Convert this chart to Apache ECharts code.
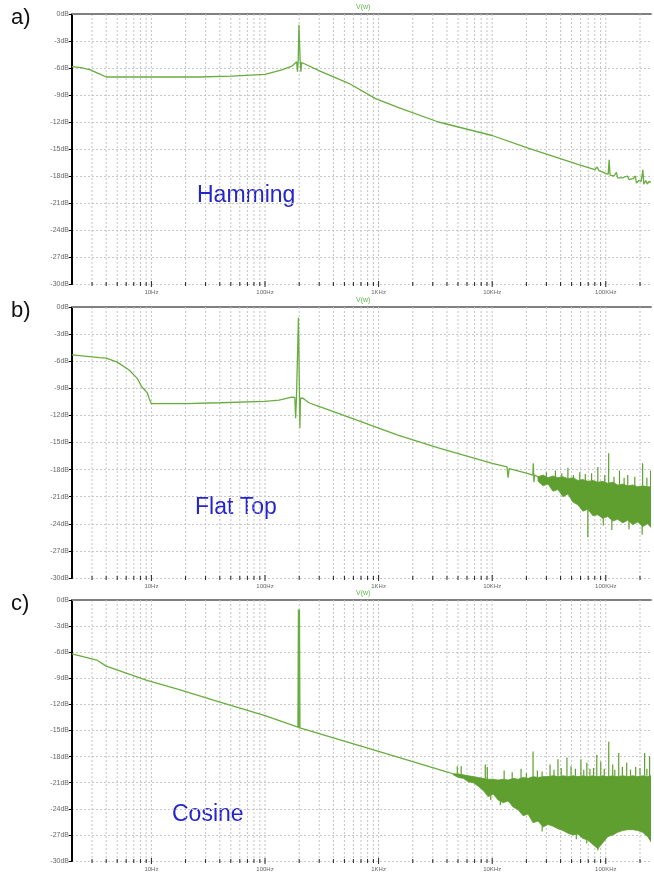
<!DOCTYPE html>
<html><head><meta charset="utf-8">
<script src="https://cdn.jsdelivr.net/npm/echarts@6/dist/echarts.min.js"></script>
<style>html,body{margin:0;padding:0;background:#fff}#c{width:654px;height:872px}</style>
</head><body><div id="c"></div>
<script>
// ---------------- data (frequency in Hz, level in dB) ----------------
const yTicks = [0,-3,-6,-9,-12,-15,-18,-21,-24,-27,-30];
const xLabels = {10:'10Hz',100:'100Hz',1000:'1KHz',10000:'10KHz',100000:'100KHz'};
const gridFreqs = [3,4,5,6,7,8,9,10,20,30,40,50,60,70,80,90,100,200,300,400,500,600,700,800,900,
  1000,2000,3000,4000,5000,6000,7000,8000,9000,10000,20000,30000,40000,50000,60000,70000,80000,90000,100000,200000];
const decades = [10,100,1000,10000,100000];

const hammingLine = [[2,-5.85],[2.4,-5.95],[2.9,-6.2],[3.4,-6.6],[4,-7.0],[10,-7.0],[26,-7.0],[51,-6.9],[100,-6.7],
  [141,-6.2],[172,-5.8],[190,-5.3],[193,-6.4],[196,-5.2],[199,-1.2],[201,-1.2],[204,-5.2],[207,-6.4],[210,-5.4],
  [220,-5.5],[298,-6.3],[546,-7.7],[940,-9.4],[1500,-10.4],[3357,-12.0],[10000,-13.5],[20700,-14.9],[56800,-16.7],
  [80000,-17.3],[84000,-17.0],[87000,-17.4],[100000,-17.7],[105000,-17.8],[107000,-16.2],[109000,-17.9],
  [118000,-18.0],[124000,-17.6],[127000,-18.2],[140000,-18.2],[155000,-18.0],[160000,-18.4],[175000,-18.3],
  [182000,-18.0],[186000,-18.8],[195000,-18.5],[205000,-18.6],[212000,-17.3],[216000,-18.9],[225000,-18.5],
  [232000,-18.9],[240000,-18.6],[250000,-18.7]];

const flatTopLine = [[2,-5.3],[3.5,-5.6],[4,-5.65],[5,-6.1],[6.4,-7.0],[7.5,-7.9],[8.2,-8.8],[9.2,-9.5],[9.6,-10.2],
  [10,-10.7],[20,-10.7],[40,-10.6],[100,-10.45],[133,-10.3],[172,-9.97],[183,-10.0],[186,-12.3],[189,-10.3],
  [194,-10.1],[197,-1.2],[199,-1.1],[201,-1.2],[203,-13.4],[205,-10.1],[210,-9.9],[216,-10.1],[243,-10.6],
  [298,-11.0],[546,-12.2],[1000,-13.4],[1500,-14.2],[3357,-15.6],[10000,-17.3],[13500,-17.7],[13800,-18.9],
  [14100,-17.9],[20000,-18.4],[22800,-18.6],[23000,-17.3],[23300,-19.4],[23600,-18.6],[25300,-18.8],
  [31000,-19.3],[40000,-19.8],[60000,-20.4],[85000,-21.0],[130000,-21.5],[250000,-21.8]];
const flatTopBandF  = [25330,28020,30990,34290,37920,41960,46420,51350,56810,62840,69520,76910,85080,94130,
  104100,115200,127400,140900,156000,172500,190900,211200,233600,250000];
const flatTopBandHi = [-18.8,-18.6,-18.9,-18.7,-18.9,-18.8,-19.0,-18.9,-19.2,-19.1,-19.3,-19.2,-19.4,-19.3,
  -19.5,-19.4,-19.7,-19.6,-19.8,-19.7,-19.9,-19.8,-19.9,-19.9];
const flatTopBandLo = [-19.3,-19.8,-19.6,-20.4,-20.2,-21.0,-20.7,-21.6,-21.9,-22.6,-22.4,-23.1,-23.0,-23.4,
  -23.2,-23.7,-23.5,-23.9,-23.6,-24.1,-23.8,-24.3,-24.0,-24.4];
// spikes: [frequency, from dB, to dB]
const flatTopSpikes = [[36000,-19.0,-18.1],[46400,-19.0,-17.8],[59000,-19.2,-18.3],[85100,-19.4,-17.7],
  [106000,-19.5,-16.2],[132000,-19.6,-18.1],[156000,-19.8,-18.6],[211000,-19.8,-17.3],[248000,-19.9,-18.1],
  [30000,-18.9,-18.3],[41000,-18.9,-18.4],[52000,-19.0,-18.6],[66000,-19.2,-18.5],[75000,-19.2,-18.4],
  [98000,-19.4,-18.6],[118000,-19.5,-18.8],[145000,-19.7,-18.9],[180000,-19.8,-18.8],[230000,-19.9,-18.9],
  [69500,-22.4,-25.5],[113000,-23.6,-24.7],[209000,-24.2,-25.2],[95000,-23.3,-24.2],[160000,-23.6,-24.6]];

const cosineLine = [[2,-6.2],[3.3,-6.9],[4,-7.6],[6,-8.4],[9,-9.2],[17.6,-10.3],[39.5,-11.7],[100,-13.3],
  [195,-14.6],[197,-1.1],[199,-14.7],[201,-1.1],[203,-14.7],[1000,-17.4],[1500,-18.1],[4110,-19.8],
  [4550,-20.0],[9220,-20.9],[20700,-21.3],[60000,-21.6],[250000,-21.8]];
const cosineBandF  = [4550,5030,5570,6160,6810,7540,8340,9220,10200,11290,12490,13810,15280,16910,18710,20700,
  22890,25330,28020,30990,34290,37920,41960,46420,51350,56810,62840,69520,76910,85080,94130,104100,115200,
  127400,140900,156000,172500,190900,211200,233600,250000];
const cosineBandHi = [-20.0,-20.0,-20.1,-20.2,-20.3,-20.4,-20.5,-20.6,-20.6,-20.7,-20.6,-20.7,-20.5,-20.6,-20.4,
  -20.5,-20.3,-20.4,-20.3,-20.3,-20.2,-20.3,-20.2,-20.3,-20.2,-20.3,-20.2,-20.3,-20.2,-20.3,-20.2,-20.3,-20.2,
  -20.3,-20.2,-20.3,-20.2,-20.3,-20.2,-20.3,-20.2];
const cosineBandLo = [-20.1,-20.4,-20.5,-20.9,-21.0,-21.4,-21.9,-22.6,-22.3,-23.0,-23.3,-23.1,-23.8,-24.1,-24.8,
  -24.6,-25.6,-25.4,-26.1,-25.8,-26.0,-26.3,-26.5,-26.8,-27.0,-26.9,-27.4,-27.6,-28.1,-28.6,-27.9,-27.2,-27.0,
  -26.7,-26.5,-26.4,-26.4,-26.5,-26.7,-27.2,-27.8];
const cosineSpikes = [[4930,-20.0,-19.1],[5330,-20.1,-19.1],[8690,-20.5,-18.9],[9050,-20.6,-19.2],[12740,-20.6,-19.6],
  [17950,-20.5,-19.4],[22890,-20.3,-17.4],[27500,-20.3,-19.7],[32300,-20.3,-18.9],[37920,-20.3,-18.3],
  [45500,-20.3,-18.1],[49400,-20.2,-19.1],[60400,-20.2,-18.3],[68100,-20.3,-18.7],[83300,-20.3,-17.8],
  [90300,-20.2,-18.6],[106200,-20.3,-16.3],[130000,-20.3,-17.6],[152800,-20.3,-18.7],[183300,-20.2,-19.2],
  [219600,-20.2,-17.6],[243000,-20.3,-18.0],[40500,-20.2,-19.3],[72500,-20.2,-19.4],[115000,-20.2,-18.9],
  [15000,-20.5,-19.8],[20000,-20.5,-19.9],[25000,-20.4,-19.6],[35000,-20.3,-19.5],[54000,-20.2,-19.4],
  [64000,-20.2,-19.5],[78000,-20.2,-19.3],[97000,-20.2,-19.4],[120000,-20.2,-19.5],[140000,-20.2,-19.2],
  [165000,-20.2,-19.5],[200000,-20.2,-19.3],[230000,-20.2,-19.4],
  [9700,-22.4,-23.0],[11800,-23.1,-23.6],[27500,-26.0,-26.6],[55000,-26.9,-27.5],[68000,-27.5,-28.0],[85000,-28.5,-28.8]];

// ---------------- chart ----------------
const GREEN = '#68ad3f', BAND = '#5e9f30';
const tops = [14, 307, 600], heights = [270, 271, 270];
const chart = echarts.init(document.getElementById('c'), null, {renderer:'canvas'});

const grids = tops.map((t,i)=>({left:72, right:0, top:t, height:heights[i]}));
const xAxes = tops.map((t,i)=>({
  type:'log', gridIndex:i, min:2, max:250000, logBase:10,
  axisLine:{show:true, lineStyle:{color:'#8a8a8a', width:2}},
  axisTick:{show:false}, splitLine:{show:false}, minorTick:{show:false},
  axisLabel:{show:true, fontSize:6, color:'#666', margin:5, fontFamily:'Liberation Sans',
    formatter:v=>{ const k=Math.round(v); return xLabels[k] && Math.abs(v-k)<1e-6 ? xLabels[k] : ''; }}
}));
const yAxes = tops.map((t,i)=>({
  type:'value', gridIndex:i, min:-30, max:0, interval:3,
  axisLine:{show:true, lineStyle:{color:'#000', width:2}},
  axisTick:{show:true, length:3, lineStyle:{color:'#000'}},
  axisLabel:{fontSize:7, color:'#666', margin:3, fontFamily:'Liberation Sans', formatter:v=>v+'dB'},
  splitLine:{show:true, lineStyle:{color:'#c8c8c8', type:[2,2], width:1}}
}));

function gridSeries(i){
  return {type:'custom', xAxisIndex:i, yAxisIndex:i, silent:true, z:1, clip:false,
    data: gridFreqs.map(f=>[f,0]),
    renderItem:(p,api)=>{
      const f=api.value(0), a=api.coord([f,0]), b=api.coord([f,-30]);
      const major=decades.indexOf(f)>=0, L=major?3:2;
      const ch=[
        {type:'line', shape:{x1:a[0],y1:a[1],x2:b[0],y2:b[1]}, style:{stroke:'#c4c4c4', lineWidth:1, lineDash:[2,2]}},
        {type:'line', shape:{x1:b[0],y1:b[1]-L,x2:b[0],y2:b[1]+L}, style:{stroke:'#222', lineWidth:1}}
      ];
      if(p.dataIndex===0){
        const s=api.coord([2,0]), e=api.coord([250000,0]);
        ch.push({type:'line', shape:{x1:s[0],y1:s[1],x2:e[0],y2:e[1]}, style:{stroke:'#808080', lineWidth:2}});
      }
      return {type:'group', children:ch};
    }};
}
function bandSeries(i,F,Hi,Lo){
  return {type:'custom', xAxisIndex:i, yAxisIndex:i, silent:true, z:6, clip:true,
    data:[[F[0],Hi[0]]],
    renderItem:(p,api)=>{
      const pts=[];
      for(let k=0;k<F.length;k++) pts.push(api.coord([F[k],Hi[k]]));
      for(let k=F.length-1;k>=0;k--) pts.push(api.coord([F[k],Lo[k]]));
      return {type:'polygon', shape:{points:pts}, style:{fill:BAND, stroke:BAND, lineWidth:0.8}};
    }};
}
function spikeSeries(i,S){
  return {type:'custom', xAxisIndex:i, yAxisIndex:i, silent:true, z:6, clip:true,
    data:S,
    renderItem:(p,api)=>{
      const a=api.coord([api.value(0),api.value(1)]), b=api.coord([api.value(0),api.value(2)]);
      return {type:'line', shape:{x1:a[0],y1:a[1],x2:b[0],y2:b[1]}, style:{stroke:BAND, lineWidth:1.2}};
    }};
}
function lineSeries(i,d){
  return {type:'line', xAxisIndex:i, yAxisIndex:i, data:d, showSymbol:false, silent:true, z:4,
    lineStyle:{color:GREEN, width:1.3}, animation:false};
}

const texts = [];
const panelLabels = ['a)','b)','c)'];
const windows = ['Hamming','Flat Top','Cosine'];
const winPos = [[197,188],[195,500],[172,807]];
tops.forEach((t,i)=>{
  texts.push({type:'text', left:11, top:t-7, style:{text:panelLabels[i], font:'22px "Liberation Sans"', fill:'#111'}});
  texts.push({type:'text', left:356, top:t-10, style:{text:'V(w)', font:'7px "Liberation Sans"', fill:'#5cb84a'}});
  texts.push({type:'text', left:winPos[i][0], top:winPos[i][1]-4, style:{text:windows[i], font:'23px "Liberation Sans"', fill:'#2525cc'}});
});

chart.setOption({
  animation:false,
  backgroundColor:'#fff',
  grid:grids, xAxis:xAxes, yAxis:yAxes,
  graphic:texts,
  series:[
    gridSeries(0), gridSeries(1), gridSeries(2),
    lineSeries(0,hammingLine),
    bandSeries(1,flatTopBandF,flatTopBandHi,flatTopBandLo), spikeSeries(1,flatTopSpikes), lineSeries(1,flatTopLine),
    bandSeries(2,cosineBandF,cosineBandHi,cosineBandLo), spikeSeries(2,cosineSpikes), lineSeries(2,cosineLine)
  ]
});
</script></body></html>
